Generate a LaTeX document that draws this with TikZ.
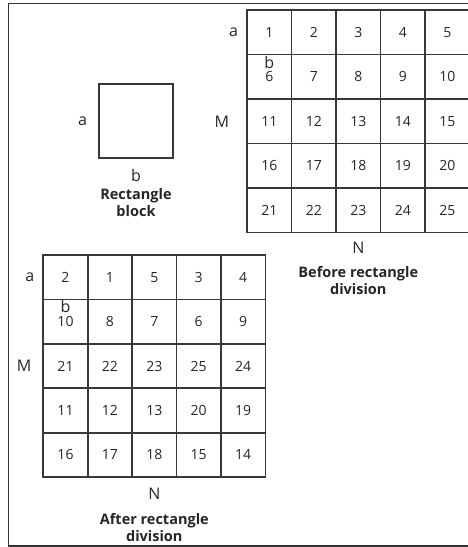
\documentclass[tikz,border=0pt]{standalone}
\usepackage{fontspec}
\setmainfont{Open Sans}
\usetikzlibrary{positioning}
\tikzset{
  blockCell/.style={draw=black!78, line width=1.7pt, minimum width=44.5pt, minimum height=44.5pt, inner sep=0pt, font=\fontsize{14}{16}\selectfont, text=black!85},
  sideLabel/.style={inner sep=0pt, font=\fontsize{16}{18}\selectfont, text=black!85},
  captionText/.style={align=center, inner sep=0pt, font=\bfseries\fontsize{14.5}{17}\selectfont, text=black!85},
  frameLine/.style={draw=black!80, line width=1.6pt}
}

\begin{document}
\begin{tikzpicture}[x=1pt, y=-1pt]
  \useasboundingbox (0,0) rectangle (468,547);
  % outer frame
  \coordinate (frameTR) at (472,3.5);
  \coordinate (frameBL) at (8.5,546);
  \coordinate (frameBR) at (472,546);
  \draw[frameLine] (frameTR) -| (frameBL) -- (frameBR);

  % single block
  \node[draw=black!78, line width=1.7pt, minimum width=74pt, minimum height=74pt, inner sep=0pt] (block) at (136,121) {};
  \node[sideLabel, left=11pt of block] (blockA) {a};
  \node[sideLabel, below=10pt of block] (blockB) {b};
  \node[captionText, below=7pt of blockB] (blockCap) {Rectangle\\block};

  % before division
  \foreach \r in {0,...,4}
    \foreach \c in {0,...,4} {
      \pgfmathtruncatemacro\n{\r*5+\c+1}
      \node[blockCell] (pre\n) at (269.3+44.5*\c, 32.3+44.5*\r) {\n};
    }
  \node[sideLabel, left=8pt of pre1] (preA) {a};
  \node[sideLabel, below=2pt of pre6.north, anchor=north] (preB) {b};
  \node[sideLabel, left=17pt of pre11] (preM) {M};
  \node[sideLabel, below=8pt of pre23] (preN) {N};
  \node[captionText, below=13pt of preN] (preCap) {Before rectangle\\division};

  % after division
  \foreach \v [count=\k from 0] in {2,1,5,3,4,10,8,7,6,9,21,22,23,25,24,11,12,13,20,19,16,17,18,15,14} {
    \pgfmathtruncatemacro\r{int(\k/5)}
    \pgfmathtruncatemacro\c{mod(\k,5)}
    \pgfmathtruncatemacro\p{\k+1}
    \node[blockCell] (post\p) at (65.5+44.4*\c, 277.2+44.4*\r) {\v};
  }
  \node[sideLabel, left=8pt of post1] (postA) {a};
  \node[sideLabel, below=2pt of post6.north, anchor=north] (postB) {b};
  \node[sideLabel, left=11pt of post11] (postM) {M};
  \node[sideLabel, below=10pt of post23] (postN) {N};
  \node[captionText, below=13pt of postN] (postCap) {After rectangle\\division};
\end{tikzpicture}
\end{document}
